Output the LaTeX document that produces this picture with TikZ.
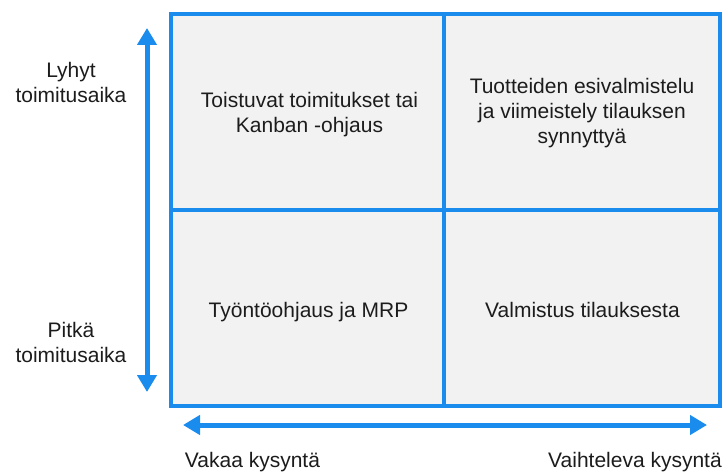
\documentclass[tikz,border=0pt]{standalone}
\usepackage{fontspec}
\setmainfont{Liberation Sans}
\usetikzlibrary{arrows.meta}
\definecolor{gridblue}{RGB}{25,140,238}
\definecolor{cellgray}{RGB}{242,242,242}
\definecolor{txtgray}{RGB}{28,28,28}
\begin{document}
\begin{tikzpicture}[x=1pt,y=-1pt,
  cell/.style={draw=gridblue,line width=3.6pt,fill=cellgray,rectangle,minimum height=196pt,inner sep=0pt},
  lbl/.style={font=\fontsize{21}{25}\selectfont,text=txtgray,align=center,inner sep=0pt},
  bigarrow/.style={draw=gridblue,line width=5pt,{Triangle[width=19pt,length=17pt]}-{Triangle[width=19pt,length=17pt]}}]
\useasboundingbox (0,0) rectangle (728,473);
% cells
\node[cell,minimum width=273pt] (tl) at (307.5,112) {};
\node[cell,minimum width=276pt] (tr) at (582,112) {};
\node[cell,minimum width=273pt] (bl) at (307.5,308) {};
\node[cell,minimum width=276pt] (br) at (582,308) {};
% cell texts
\node[lbl] (tltext) at (309.5,115) {Toistuvat toimitukset tai\\Kanban -ohjaus};
\node[lbl] (trtext) at (582,113) {Tuotteiden esivalmistelu\\ja viimeistely tilauksen\\synnyttyä};
\node[lbl,anchor=base] (bltext) at (308.5,317) {Työntöohjaus ja MRP};
\node[lbl,anchor=base] (brtext) at (582.5,317) {Valmistus tilauksesta};
% axis labels
\node[lbl] (short) at (71,82) {Lyhyt\\toimitusaika};
\node[lbl] (long) at (71,342) {Pitkä\\toimitusaika};
\node[lbl,anchor=base] (steady) at (252.5,467) {Vakaa kysyntä};
\node[lbl,anchor=base] (varying) at (635,467) {Vaihteleva kysyntä};
% arrows
\coordinate (vtop) at (147,28);
\coordinate (vbot) at (147,392);
\coordinate (hleft) at (183,425);
\coordinate (hright) at (707,425);
\draw[bigarrow] (vtop) -- (vbot);
\draw[bigarrow] (hleft) -- (hright);
\end{tikzpicture}
\end{document}
